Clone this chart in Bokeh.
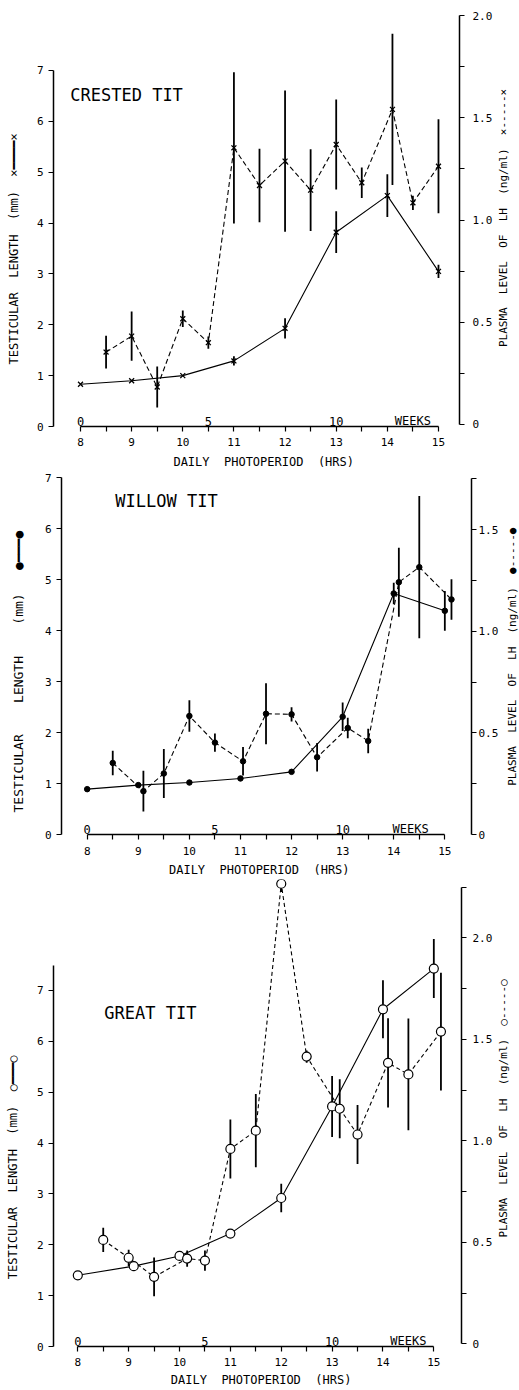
import math
from bokeh.plotting import figure
from bokeh.models import Range1d, LinearAxis, FixedTicker
from bokeh.layouts import column, row
from bokeh.embed import file_html
from bokeh.resources import INLINE
from bokeh.core.properties import value

FONT = "DejaVu Sans Mono"
SP = "\u00a0"  # non-breaking space (kept by SVG text)
PAGE_W = 519

# ---------------- data ----------------
hour_ticks = [8, 9, 10, 11, 12, 13, 14, 15]
half_hour_ticks = [8.5, 9.5, 10.5, 11.5, 12.5, 13.5, 14.5]
week_values = [0, 5, 10]
week_labels = ["0", "5", "10"]
panel_titles = ["CRESTED TIT", "WILLOW TIT", "GREAT TIT"]
lh_tick_labels = {0: "0", 0.5: "0.5", 1: "1.0", 1.5: "1.5", 2: "2.0"}

# Crested tit
ct_testis_hr = [8, 9, 10, 11, 12, 13, 14, 15]
ct_testis_mm = [0.83, 0.90, 1.00, 1.29, 1.93, 3.82, 4.54, 3.05]
ct_testis_se = [0.0, 0.0, 0.0, 0.09, 0.20, 0.41, 0.42, 0.13]
ct_lh_hr = [8.5, 9, 9.5, 10, 10.5, 11, 11.5, 12, 12.5, 13, 13.5, 14.1, 14.5, 15]
ct_lh = [0.354, 0.432, 0.183, 0.517, 0.40, 1.353, 1.169, 1.288, 1.146, 1.369, 1.182, 1.541, 1.084, 1.263]
ct_lh_se = [0.08, 0.12, 0.10, 0.04, 0.03, 0.37, 0.18, 0.345, 0.20, 0.22, 0.075, 0.37, 0.035, 0.23]

# Willow tit
wt_testis_hr = [8, 9, 10, 11, 12, 13, 14, 15]
wt_testis_mm = [0.89, 0.97, 1.02, 1.10, 1.23, 2.31, 4.73, 4.39]
wt_testis_se = [0.0, 0.0, 0.0, 0.0, 0.0, 0.28, 0.21, 0.39]
wt_lh_hr = [8.5, 9.1, 9.5, 10, 10.5, 11.05, 11.5, 12, 12.5, 13.1, 13.5, 14.1, 14.5, 15.13]
wt_lh = [0.352, 0.213, 0.30, 0.583, 0.452, 0.36, 0.594, 0.591, 0.38, 0.524, 0.46, 1.241, 1.315, 1.156]
wt_lh_se = [0.06, 0.10, 0.12, 0.077, 0.045, 0.07, 0.15, 0.035, 0.07, 0.05, 0.06, 0.17, 0.35, 0.10]

# Great tit
gt_testis_hr = [8, 9.1, 10, 11, 12, 13, 14, 15]
gt_testis_mm = [1.40, 1.58, 1.78, 2.22, 2.92, 4.72, 6.63, 7.43]
gt_testis_se = [0.0, 0.0, 0.0, 0.0, 0.28, 0.60, 0.57, 0.58]
gt_lh_hr = [8.5, 9.0, 9.5, 10.15, 10.5, 11.0, 11.5, 12.0, 12.5, 13.15, 13.5, 14.1, 14.5, 15.14]
gt_lh = [0.512, 0.424, 0.33, 0.42, 0.41, 0.96, 1.05, 2.266, 1.415, 1.158, 1.031, 1.384, 1.327, 1.538]
gt_lh_se = [0.06, 0.04, 0.095, 0.04, 0.05, 0.145, 0.18, 0.04, 0.03, 0.145, 0.145, 0.22, 0.275, 0.29]

# axis titles (legend symbols included as in the original)
BOX = "\u2501"
left_labels = [
    "TESTICULAR  LENGTH  (mm)  \u00d7" + BOX * 4 + "\u00d7",
    "TESTICULAR    LENGTH    (mm)   \u25cf" + BOX * 3 + "\u25cf",
    "TESTICULAR  LENGTH  (mm)  \u25cb" + BOX * 3 + "\u25cb",
]
right_labels = [
    "PLASMA  LEVEL  OF  LH  (ng/ml)  \u00d7-----\u00d7",
    "PLASMA  LEVEL  OF  LH  (ng/ml)  \u25cf-----\u25cf",
    "PLASMA  LEVEL  OF  LH  (ng/ml)  \u25cb-----\u25cb",
]
x_label = "DAILY  PHOTOPERIOD  (HRS)"


def nb(s):
    return s.replace(" ", SP)


def style_axis(ax):
    ax.axis_line_width = 1.5
    ax.axis_line_color = "black"
    ax.major_tick_line_width = 1.2
    ax.minor_tick_line_width = 1.2
    ax.major_tick_line_color = "black"
    ax.minor_tick_line_color = "black"
    ax.major_tick_in = 0
    ax.major_tick_out = 5
    ax.minor_tick_in = 0
    ax.minor_tick_out = 5
    ax.major_label_text_font = FONT
    ax.major_label_text_font_size = "11px"
    ax.major_label_text_color = "black"
    ax.axis_label_text_font = FONT
    ax.axis_label_text_font_size = "12px"
    ax.axis_label_text_font_style = "normal"
    ax.axis_label_text_color = "black"


def make_panel(cfg, t_hr, t_mm, t_se, l_hr, l_lh, l_se):
    fw, fh = cfg["fw"], cfg["fh"]
    x0 = 8 - cfg["x8_off"] / cfg["pxh"]
    x1 = x0 + fw / cfg["pxh"]
    ymax = fh / cfg["pxmm"]
    p = figure(frame_width=fw, frame_height=fh,
               x_range=Range1d(x0, x1), y_range=Range1d(0, ymax),
               output_backend="svg", toolbar_location=None,
               min_border_left=cfg["bl"], min_border_right=cfg["br"],
               min_border_top=cfg["bt"], min_border_bottom=cfg["bb"],
               background_fill_color="white", border_fill_color="white")
    p.grid.visible = False
    p.outline_line_color = None
    p.extra_y_ranges = {"lh": Range1d(cfg["lh0"], cfg["lh1"])}

    xa = p.xaxis[0]
    style_axis(xa)
    xa.ticker = FixedTicker(ticks=hour_ticks, minor_ticks=half_hour_ticks)
    xa.bounds = (8, 15)
    xa.axis_label = SP * cfg["xlead"] + nb(x_label) + SP * cfg["xtrail"]
    xa.major_label_standoff = cfg["xls"]
    xa.axis_label_standoff = cfg["xas"]

    ya = p.yaxis[0]
    style_axis(ya)
    ya.ticker = FixedTicker(ticks=list(range(0, 8)))
    ya.bounds = (0, cfg["ltop"])
    ya.axis_label = nb(cfg["llabel"]) + SP * cfg["lpad"]
    ya.axis_label_text_font_size = cfg["lfs"]
    ya.axis_label_standoff = cfg["las"]

    ra = LinearAxis(y_range_name="lh")
    style_axis(ra)
    ra.ticker = FixedTicker(ticks=cfg["rticks"], minor_ticks=cfg["rminor"])
    ra.bounds = (0, cfg["rtop"])
    ra.major_label_overrides = {k: v for k, v in lh_tick_labels.items() if k in cfg["rticks"]}
    ra.major_label_standoff = cfg["rls"]
    p.add_layout(ra, "right")

    # error bars
    tlo = [m - s for m, s in zip(t_mm, t_se)]
    thi = [m + s for m, s in zip(t_mm, t_se)]
    p.segment(x0=t_hr, y0=tlo, x1=t_hr, y1=thi, line_color="black", line_width=1.8)
    llo = [m - s for m, s in zip(l_lh, l_se)]
    lhi = [m + s for m, s in zip(l_lh, l_se)]
    p.segment(x0=l_hr, y0=llo, x1=l_hr, y1=lhi, line_color="black", line_width=1.8,
              y_range_name="lh")

    # lines
    p.line(t_hr, t_mm, line_color="black", line_width=1.1)
    p.line(l_hr, l_lh, line_color="black", line_width=1.1, line_dash=cfg["dash"],
           y_range_name="lh")

    # markers
    mk = cfg["marker"]
    if mk == "x":
        kw = dict(marker="x", size=7, line_color="black", line_width=1.3)
    elif mk == "dot":
        kw = dict(marker="circle", size=5.5, fill_color="black", line_color="black")
    else:
        kw = dict(marker="circle", size=9, fill_color="white", line_color="black", line_width=1.2)
    p.scatter(t_hr, t_mm, **kw)
    p.scatter(l_hr, l_lh, y_range_name="lh", **kw)

    # title
    p.text(x=[cfg["title_x"]], y=[cfg["title_y"]], text=[cfg["title"]],
           text_font=value(FONT), text_font_size=value("17px"),
           text_baseline="middle", text_align="left", text_color="black")

    # weeks scale labels (photoperiod increased 0.5 h per week)
    wx = [8 + w * 0.5 for w in week_values]
    p.text(x=wx + [cfg["weeks_x"]], y=[0.1] * (len(wx) + 1), text=week_labels + ["WEEKS"],
           text_font=value(FONT), text_font_size=value("12px"),
           text_baseline="alphabetic", text_align="center", text_color="black")

    # narrow strip to the right carrying the LH axis title, reading bottom to top
    main_w = cfg["bl"] + fw + cfg["br"]
    lw = PAGE_W - main_w
    lab = figure(frame_width=lw, frame_height=fh,
                 x_range=Range1d(0, lw), y_range=Range1d(0, ymax),
                 x_axis_location=None, y_axis_location=None,
                 output_backend="svg", toolbar_location=None,
                 min_border_left=0, min_border_right=0,
                 min_border_top=cfg["bt"], min_border_bottom=cfg["bb"],
                 background_fill_color="white", border_fill_color="white")
    lab.grid.visible = False
    lab.outline_line_color = None
    lab.text(x=[cfg["rl_page_x"] - main_w], y=[cfg["rl_y"]],
             text=[nb(cfg["rlabel"])],
             angle=math.pi / 2, text_font=value(FONT), text_font_size=value("11px"),
             text_baseline="middle", text_align="center", text_color="black")
    return row(p, lab, spacing=0)


cfg1 = dict(fw=406, fh=413, pxh=51.14, x8_off=27, pxmm=50.86, bl=53, br=35, bt=13, bb=45,
            lh0=-0.01, lh1=2.01, ltop=7, rtop=2.0, rls=8,
            rticks=[0, 0.5, 1.0, 1.5, 2.0], rminor=[0.25, 0.75, 1.25, 1.75],
            llabel=left_labels[0], lpad=8, lfs="12px", las=13,
            rlabel=right_labels[0], rl_page_x=502, rl_y=4.10,
            xls=6, xas=6, xlead=2, xtrail=0,
            dash="5 3", marker="x", title=panel_titles[0], title_x=7.80, title_y=6.51,
            weeks_x=14.5)
cfg2 = dict(fw=410, fh=357, pxh=51.09, x8_off=25.7, pxmm=50.95, bl=61, br=28, bt=6, bb=44,
            lh0=0.0, lh1=1.756, ltop=7, rtop=1.75, rls=2,
            rticks=[0, 0.5, 1.0, 1.5], rminor=[0.25, 0.75, 1.25, 1.75],
            llabel=left_labels[1], lpad=4, lfs="13px", las=16,
            rlabel=right_labels[1], rl_page_x=510, rl_y=3.49,
            xls=7, xas=5, xlead=0, xtrail=2,
            dash="5 3", marker="dot", title=panel_titles[1], title_x=8.55, title_y=6.54,
            weeks_x=14.33)
cfg3 = dict(fw=408, fh=467, pxh=50.86, x8_off=24.3, pxmm=50.86, bl=53, br=34, bt=0, bb=42,
            lh0=-0.013, lh1=2.287, ltop=7.5, rtop=2.25, rls=6,
            rticks=[0, 0.5, 1.0, 1.5, 2.0], rminor=[0.25, 0.75, 1.25, 1.75, 2.25],
            llabel=left_labels[2], lpad=15, lfs="12px", las=14,
            rlabel=right_labels[2], rl_page_x=503, rl_y=4.68,
            xls=6, xas=4, xlead=1, xtrail=0,
            dash="4 3", marker="circle", title=panel_titles[2], title_x=8.52, title_y=6.55,
            weeks_x=14.5)

r1 = make_panel(cfg1, ct_testis_hr, ct_testis_mm, ct_testis_se, ct_lh_hr, ct_lh, ct_lh_se)
r2 = make_panel(cfg2, wt_testis_hr, wt_testis_mm, wt_testis_se, wt_lh_hr, wt_lh, wt_lh_se)
r3 = make_panel(cfg3, gt_testis_hr, gt_testis_mm, gt_testis_se, gt_lh_hr, gt_lh, gt_lh_se)

layout = column(r1, r2, r3, spacing=0)
open("out.html", "w").write(file_html(layout, INLINE))
